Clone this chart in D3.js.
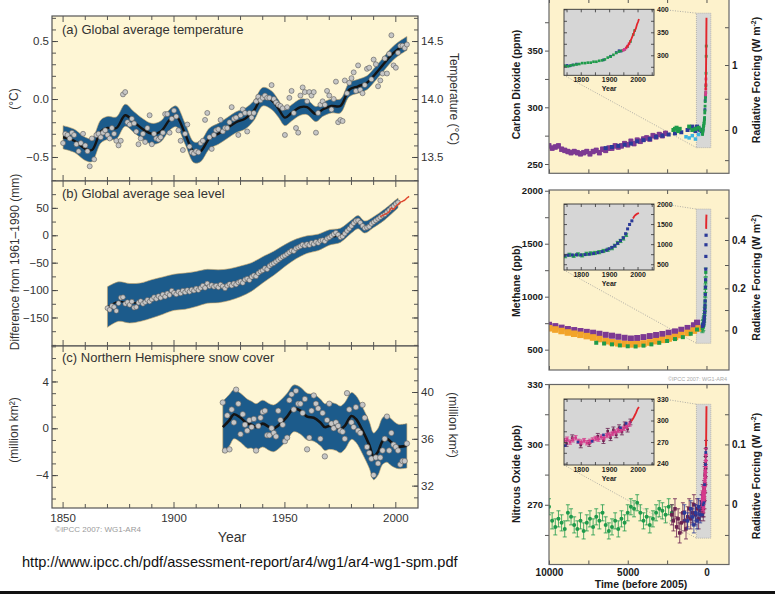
<!DOCTYPE html>
<html>
<head>
<meta charset="utf-8">
<script src="https://cdn.jsdelivr.net/npm/d3@7"></script>
<style>
  body { margin: 0; background: #fff; }
  svg { display: block; font-family: "Liberation Sans", Arial, sans-serif; }
</style>
</head>
<body>
<svg id="chart" width="775" height="602"></svg>
<script>

// ---------------- (a) global average temperature, anomaly vs 1961-1990 ----------------
var tempYears = d3.range(1850, 2006);
var tempAnom = [
  -0.38,-0.30,-0.31,-0.34,-0.29,-0.31,-0.39,-0.45,-0.38,-0.30,
  -0.40,-0.45,-0.58,-0.34,-0.52,-0.31,-0.30,-0.33,-0.29,-0.27,
  -0.31,-0.34,-0.25,-0.30,-0.36,-0.40,-0.36,0.04,0.06,-0.20,
  -0.22,-0.17,-0.21,-0.28,-0.39,-0.34,-0.30,-0.37,-0.25,-0.14,
  -0.39,-0.30,-0.34,-0.35,-0.33,-0.29,-0.13,-0.13,-0.29,-0.17,
  -0.10,-0.15,-0.27,-0.36,-0.44,-0.30,-0.22,-0.41,-0.46,-0.47,
  -0.45,-0.46,-0.38,-0.36,-0.18,-0.12,-0.33,-0.43,-0.31,-0.27,
  -0.26,-0.18,-0.28,-0.25,-0.25,-0.20,-0.07,-0.17,-0.16,-0.31,
  -0.14,-0.09,-0.12,-0.28,-0.12,-0.16,-0.12,-0.02,0.02,-0.01,
  0.01,0.03,0.01,0.01,0.12,0.00,-0.03,-0.05,-0.06,-0.08,
  -0.31,-0.07,0.01,0.07,-0.12,-0.25,-0.29,0.03,0.10,0.06,
  -0.02,0.06,0.03,0.06,-0.29,-0.12,-0.05,-0.02,-0.05,0.07,
  0.03,-0.09,0.00,0.15,-0.20,-0.18,-0.19,0.16,0.05,0.14,
  0.18,0.23,0.07,0.29,0.08,0.05,0.12,0.26,0.27,0.17,
  0.34,0.30,0.11,0.16,0.22,0.35,0.22,0.39,0.55,0.29,
  0.27,0.40,0.46,0.46,0.44,0.47
];
var tempSmoothYears = [1850,1855,1860,1863,1867,1870,1874,1878,1882,1886,1890,1894,1898,1901,1905,
  1909,1912,1916,1920,1924,1928,1932,1936,1940,1944,1947,1950,1953,1957,1960,1964,1967,1971,1975,1979,
  1983,1987,1990,1994,1998,2001,2005];
var tempSmooth = [-0.33,-0.36,-0.43,-0.44,-0.28,-0.25,-0.25,-0.14,-0.20,-0.26,-0.30,-0.28,-0.18,-0.15,-0.30,
  -0.46,-0.45,-0.34,-0.30,-0.25,-0.20,-0.17,-0.10,0.02,-0.01,-0.08,-0.16,-0.12,-0.07,-0.07,-0.13,-0.09,
  -0.06,-0.06,0.08,0.11,0.14,0.20,0.29,0.38,0.43,0.48];
var tempUnc = [0.10,0.10,0.10,0.10,0.10,0.10,0.095,0.095,0.09,0.09,0.09,0.09,0.09,0.09,0.09,
  0.09,0.09,0.09,0.09,0.09,0.09,0.09,0.085,0.08,0.08,0.075,0.07,0.07,0.07,0.065,0.065,0.06,
  0.06,0.06,0.06,0.06,0.06,0.06,0.06,0.06,0.06,0.06];

// ---------------- (b) global average sea level (mm) ----------------
var seaYears = d3.range(1870, 2002);
var seaLevel = [
  -133,-136,-129,-131,-138,-124,-114,-113,-125,-122,
  -127,-121,-132,-131,-123,-120,-125,-122,-118,-121,
  -117,-113,-116,-111,-114,-108,-112,-106,-109,-101,
  -105,-108,-103,-106,-101,-104,-100,-103,-99,-101,
  -97,-100,-96,-92,-96,-88,-93,-91,-94,-92,
  -95,-90,-93,-97,-92,-89,-92,-88,-90,-86,
  -84,-87,-81,-79,-82,-76,-73,-75,-69,-66,
  -64,-60,-62,-56,-53,-51,-48,-45,-42,-39,
  -37,-34,-31,-28,-29,-24,-22,-20,-17,-19,
  -16,-18,-14,-16,-12,-14,-10,-9,-11,-6,
  -4,-1,2,5,1,-4,-2,3,8,12,
  17,22,26,27,23,17,13,14,16,21,
  24,27,30,33,36,38,42,46,50,53,
  57,60
];
var seaSmoothYears = [1870,1875,1880,1885,1890,1895,1900,1905,1910,1915,1920,1925,1930,1935,1940,
  1945,1950,1955,1960,1965,1970,1975,1980,1983,1986,1990,1995,2001];
var seaSmooth = [-131,-121,-124,-122,-116,-110,-104,-102,-98,-93,-93,-90,-84,-76,-63,
  -51,-37,-25,-17,-13,-4,0,16,24,15,24,38,59];
var seaUnc = [37,36,36,35,35,34,33,33,32,31,30,29,28,26,24,22,20,18,16,15,14,13,12,12,11,10,10,9];
var satYears = [1993,1995,1997,1998,1999,2000,2001,2002,2003,2004,2005,2006];
var satLevel = [34,38,43,50,47,53,56,60,62,64,68,71];

// ---------------- (c) Northern Hemisphere snow cover (million km2) ----------------
var snowYears = d3.range(1922, 2006);
var snowAnom = [
  2.2,-1.9,1.1,-1.8,1.6,0.5,3.3,2.1,-0.5,1.2,
  0.3,-0.2,0.7,0.1,0.8,-1.9,0.2,0.9,1.4,1.5,
  -0.6,-0.6,0.0,-0.4,-0.7,1.5,0.7,0.3,-1.1,-0.8,
  2.4,2.9,1.6,3.2,2.1,2.1,1.3,2.5,-1.8,-0.8,
  1.5,2.8,2.1,1.7,-0.9,1.3,-2.4,0.7,2.1,0.4,
  0.0,0.5,0.2,-0.2,-0.3,-0.9,3.0,1.6,0.5,0.1,
  1.8,-0.2,-0.4,2.0,0.9,-1.6,-2.1,-2.6,-4.0,-2.5,
  -3.0,-2.5,-1.9,-0.9,1.0,-1.9,-0.4,-1.4,-1.6,-1.9,
  -3.1,-2.8,-2.8,-1.3
];
var snowSmoothYears = [1922,1925,1927,1930,1933,1935,1937,1940,1943,1945,1948,1951,1954,1957,1960,
  1963,1966,1968,1970,1973,1975,1977,1980,1982,1985,1988,1990,1992,1994,1996,1998,2001,2005];
var snowSmooth = [0.1,0.7,1.2,0.9,0.4,0.3,0.1,0.4,0.1,0.0,0.4,1.0,1.7,1.5,1.0,
  0.9,0.5,0.1,0.2,0.1,-0.1,0.2,1.05,0.8,-0.2,-1.4,-2.4,-2.0,-1.1,-0.9,-1.2,-1.55,-1.5];
var snowUnc = [2.2,2.2,2.1,2.1,2.1,2.0,2.0,2.0,2.0,2.0,2.0,2.0,2.0,2.0,2.0,
  2.0,2.0,2.0,2.0,2.0,2.0,2.0,2.0,2.0,2.0,2.0,2.0,2.0,2.0,2.0,2.0,1.9,1.9];

// ---------------- gases: [time before 2005, value] ----------------
var co2Purple = [[10000,266],[9800,264],[9600,265],[9400,266],[9200,263],[9000,262],[8800,261],[8600,260],
  [8400,261],[8200,260],[8000,259],[7800,260],[7600,261],[7400,259],[7200,261],[7000,262],[6800,260],
  [6600,263],[6400,262],[6200,264],[6000,264],[5800,266],[5600,265],[5400,266],[5200,268],[5000,267],
  [4800,270],[4600,268],[4400,271],[4200,270],[4000,272],[3800,273],[3600,272],[3400,275],[3200,274],
  [3000,276],[2800,275],[2600,277]];
var co2Blue = [[6400,264],[6000,265],[5600,266],[5200,267],[4800,268],[4400,270],[4000,271],[3600,272],
  [3200,274],[2800,275],[2400,276],[2000,277],[1600,278],[1200,280],[1000,282],[900,283],[800,281],
  [700,279],[600,283],[500,281],[400,280],[300,279]];
var co2Green = [[2100,280],[2000,281],[1900,282],[1800,279],[1700,281],[1100,283],[900,280],[700,281],
  [500,282],[350,280]];
var co2Cyan = [[1300,274],[1100,273],[900,275],[700,272],[500,276]];

// industrial era: [year, value]
var co2IceGreen = [[1745,277],[1755,276],[1765,278],[1775,279],[1785,280],[1795,281],[1805,283],[1815,283],
  [1825,284],[1835,284],[1845,286],[1855,286],[1865,288],[1875,289],[1885,291],[1895,295],[1905,297],
  [1915,301],[1925,305],[1935,308],[1945,310],[1955,313],[1965,319],[1975,330],[1985,345],[1990,354]];
var co2IceBlue = [[1742,277],[1752,278],[1762,277],[1772,279],[1785,281],[1880,290],[1905,298],[1925,306],
  [1935,310],[1942,309]];
var co2Magenta = [[1950,311],[1955,313],[1960,316],[1965,320],[1970,325]];
var co2Direct = [[1958,315],[1962,318],[1966,321],[1970,325],[1974,330],[1978,335],[1982,341],[1986,347],
  [1990,354],[1994,358],[1998,367],[2002,373],[2005,379]];

var ch4Purple = [[10000,735],[9600,722],[9200,708],[8800,695],[8400,685],[8000,676],[7600,668],[7200,660],
  [6800,650],[6400,640],[6000,632],[5600,622],[5200,612],[4800,605],[4400,610],[4000,618],[3600,628],
  [3200,638],[2800,648],[2400,660],[2000,672],[1600,688],[1200,705],[800,730],[600,755]];
var ch4Orange = [[10000,702],[9600,690],[9200,676],[8800,662],[8400,650],[8000,640],[7600,628],[7200,615],
  [6800,600],[6400,580],[6000,570],[5600,560],[5200,553],[4800,550],[4400,552],[4000,558],[3600,568],
  [3200,580],[2800,592],[2400,605],[2000,620],[1600,638],[1200,658],[800,680],[500,700]];
var ch4Green = [[7000,565],[6500,558],[6000,550],[5500,540],[5000,532],[4500,530],[4000,538],[3500,550],
  [3000,565],[2500,582],[2000,600],[1500,618],[1000,650],[600,690]];
var ch4IceBlue = [[1742,720],[1755,725],[1770,730],[1785,735],[1800,730],[1815,740],[1830,750],[1845,765],
  [1860,790],[1875,815],[1890,850],[1900,885],[1910,920],[1920,960],[1930,1020],[1940,1090],[1950,1160],
  [1958,1260],[1965,1380],[1972,1490],[1980,1580]];
var ch4IceGreen = [[1745,700],[1760,735],[1775,710],[1790,745],[1805,720],[1820,760],[1835,770],[1850,780],
  [1865,800],[1880,830],[1895,860],[1910,900],[1920,960],[1930,1030],[1940,1080],[1950,1140],[1960,1230]];
var ch4Direct = [[1984,1640],[1988,1690],[1992,1720],[1996,1745],[2000,1760],[2005,1775]];

var n2oGreen = [[10000,269],[9800,262],[9600,259],[9400,263],[9200,261],[9000,258],[8800,266],[8600,264],
  [8400,260],[8200,258],[8000,262],[7800,257],[7600,261],[7400,263],[7200,259],[7000,264],[6800,262],
  [6600,266],[6400,260],[6200,257],[6000,259],[5800,262],[5600,258],[5400,263],[5200,261],[5000,266],
  [4800,269],[4600,268],[4400,271],[4200,266],[4000,262],[3800,264],[3600,260],[3400,263],[3200,266],
  [3000,268],[2800,267],[2600,265],[2400,269],[2200,266]];
var n2oMaroon = [[2200,265],[2100,262],[2000,268],[1900,259],[1800,263],[1700,256],[1600,261],[1500,266],
  [1400,262],[1300,258],[1200,264],[1100,268],[1000,263],[900,266],[800,270],[700,265],[600,268],
  [500,263],[400,267],[300,270]];
var n2oBlue = [[1400,266],[1200,262],[1000,268],[900,264],[800,260],[700,266],[600,262],[500,269],
  [400,265],[300,271],[250,268]];
var n2oIcePink = [[1742,272],[1752,274],[1762,270],[1772,273],[1782,276],[1792,271],[1802,270],[1812,272],
  [1822,269],[1832,271],[1842,273],[1852,275],[1862,274],[1872,277],[1882,276],[1892,279],[1902,280],
  [1912,282],[1922,284],[1932,286],[1942,287],[1952,289],[1962,292],[1972,295]];
var n2oIcePurple = [[1750,268],[1770,276],[1800,266],[1830,268],[1860,278],[1880,272],[1895,285],[1905,276],
  [1915,287],[1925,280],[1935,290],[1945,284],[1955,294],[1965,288],[1975,298]];
var n2oIceBlue = [[1745,265],[1790,270],[1840,271],[1880,280],[1940,290],[1960,296]];
var n2oDirect = [[1978,299],[1985,303],[1990,307],[1995,311],[2000,316],[2005,319]];

// radiative forcing ticks and the concentration each tick sits at
var co2RfTicks = [-0.5, 0, 0.5, 1, 1.5], co2RfAt = [253.4, 280, 307.5, 337.3, 370.6];
var ch4RfTicks = [0, 0.1, 0.2, 0.3, 0.4, 0.5], ch4RfAt = [682, 874, 1079, 1299, 1535, 1745];
var n2oRfTicks = [-0.05, 0, 0.05, 0.1, 0.15], n2oRfAt = [255, 270, 285, 300, 315];

// ------------------------------------------------------------------
var svg = d3.select('#chart');
var FONT = '"Liberation Sans", Arial, sans-serif';
var clipN = 0;

function addClip(x0, y0, w, h) {
  var id = 'clip' + (clipN++);
  svg.append('clipPath').attr('id', id).append('rect')
    .attr('x', x0).attr('y', y0).attr('width', w).attr('height', h);
  return 'url(#' + id + ')';
}

function styleAxis(sel, size, bold) {
  sel.select('.domain').remove();
  sel.selectAll('line').attr('stroke', '#444').attr('stroke-width', 0.9);
  sel.selectAll('text')
    .attr('font-family', FONT)
    .attr('font-size', size)
    .attr('font-weight', bold ? 'bold' : 'normal')
    .attr('fill', bold ? '#1a1a1a' : '#333');
}

function vText(txt, cx, cy, rot, size, bold) {
  return svg.append('text')
    .attr('transform', 'translate(' + cx + ',' + cy + ') rotate(' + rot + ')')
    .attr('text-anchor', 'middle')
    .attr('dy', '0.35em')
    .attr('font-size', size)
    .attr('font-weight', bold ? 'bold' : 'normal')
    .attr('fill', bold ? '#1a1a1a' : '#333')
    .text(txt);
}

// ---------------- left column ----------------
var LX0 = 52, LX1 = 418;
var x = d3.scaleLinear().domain([1845, 2010]).range([LX0, LX1]);
var decades = d3.range(1850, 2010, 10);

function leftPanel(p) {
  var y = d3.scaleLinear().domain(p.domain).range([p.bottom, p.top]);
  var g = svg.append('g');
  g.append('rect').attr('x', LX0).attr('y', p.top)
    .attr('width', LX1 - LX0).attr('height', p.bottom - p.top)
    .attr('fill', '#fef6d5');

  var body = g.append('g').attr('clip-path', addClip(LX0, p.top, LX1 - LX0, p.bottom - p.top));
  var sm = p.smoothYears.map(function(yr, i) { return { yr: yr, v: p.smooth[i], u: p.unc[i] }; });

  body.append('path').datum(sm)
    .attr('d', d3.area().curve(d3.curveCatmullRom)
      .x(function(d) { return x(d.yr); })
      .y0(function(d) { return y(d.v - d.u); })
      .y1(function(d) { return y(d.v + d.u); }))
    .attr('fill', '#1c5b8b')
    .attr('stroke', '#c2a36c')
    .attr('stroke-width', 0.6);

  body.append('path').datum(sm)
    .attr('d', d3.line().curve(d3.curveCatmullRom)
      .x(function(d) { return x(d.yr); })
      .y(function(d) { return y(d.v); }))
    .attr('fill', 'none')
    .attr('stroke', '#141414')
    .attr('stroke-width', p.lineWidth);

  body.selectAll('circle.pt').data(p.years).enter().append('circle')
    .attr('class', 'pt')
    .attr('cx', function(d) { return x(d); })
    .attr('cy', function(d, i) { return y(p.values[i]); })
    .attr('r', p.r)
    .attr('fill', '#c6c6c6')
    .attr('stroke', '#5a5a5a')
    .attr('stroke-width', 0.6);

  if (p.extra) p.extra(body, y);

  // x ticks on top and bottom, pointing inward
  [[p.top, 1], [p.bottom, -1]].forEach(function(e) {
    g.selectAll(null).data(decades).enter().append('line')
      .attr('x1', function(d) { return x(d); })
      .attr('x2', function(d) { return x(d); })
      .attr('y1', e[0])
      .attr('y2', function(d) { return e[0] + e[1] * (d % 50 === 0 ? 6 : 4); })
      .attr('stroke', '#444').attr('stroke-width', 0.9);
  });
  if (p.xLabels) {
    g.selectAll(null).data([1850, 1900, 1950, 2000]).enter().append('text')
      .attr('x', function(d) { return x(d); })
      .attr('y', p.bottom + 13.5)
      .attr('text-anchor', 'middle')
      .attr('font-size', 11.5).attr('fill', '#333')
      .text(function(d) { return d; });
  }

  // left axis
  g.append('g').attr('transform', 'translate(' + LX0 + ',0)')
    .call(d3.axisLeft(y).tickValues(p.minor).tickSize(-4).tickFormat(''))
    .call(function(s) { styleAxis(s, 11.5, false); });
  g.append('g').attr('transform', 'translate(' + LX0 + ',0)')
    .call(d3.axisLeft(y).tickValues(p.major).tickSize(-6).tickPadding(3).tickFormat(d3.format(p.fmt)))
    .call(function(s) { styleAxis(s, 11.5, false); });

  // right axis
  var yr = y.copy().domain([p.domain[0] + p.rightOffset, p.domain[1] + p.rightOffset]);
  g.append('g').attr('transform', 'translate(' + LX1 + ',0)')
    .call(d3.axisRight(yr).tickValues(p.rMinor).tickSize(-4).tickFormat(''))
    .call(function(s) { styleAxis(s, 11.5, false); });
  g.append('g').attr('transform', 'translate(' + LX1 + ',0)')
    .call(d3.axisRight(yr).tickValues(p.rMajor).tickSize(-6).tickPadding(3)
      .tickFormat(p.rFmt ? d3.format(p.rFmt) : ''))
    .call(function(s) { styleAxis(s, 11.5, false); });

  g.append('rect').attr('x', LX0).attr('y', p.top)
    .attr('width', LX1 - LX0).attr('height', p.bottom - p.top)
    .attr('fill', 'none').attr('stroke', '#555').attr('stroke-width', 1.2);

  g.append('text').attr('x', 62).attr('y', p.titleY)
    .attr('font-size', 13).attr('fill', '#333').text(p.title);
}

leftPanel({
  top: 16, bottom: 181, domain: [-0.707, 0.716],
  years: tempYears, values: tempAnom,
  smoothYears: tempSmoothYears, smooth: tempSmooth, unc: tempUnc,
  lineWidth: 2.4, r: 2.5,
  minor: d3.range(-7, 8).map(function(k) { return k / 10; }),
  major: [-0.5, 0, 0.5], fmt: '.1f',
  rightOffset: 14.0,
  rMinor: d3.range(133, 148).map(function(k) { return k / 10; }),
  rMajor: [13.5, 14.0, 14.5], rFmt: '.1f',
  title: '(a) Global average temperature', titleY: 33.5
});

leftPanel({
  top: 181, bottom: 346, domain: [-202, 99],
  years: seaYears, values: seaLevel,
  smoothYears: seaSmoothYears, smooth: seaSmooth, unc: seaUnc,
  lineWidth: 1.6, r: 2.4,
  minor: d3.range(-200, 100, 25), major: [-150, -100, -50, 0, 50], fmt: 'd',
  rightOffset: 0,
  rMinor: d3.range(-200, 100, 25), rMajor: [-150, -100, -50, 0, 50], rFmt: null,
  title: '(b) Global average sea level', titleY: 197.5,
  extra: function(body, y) {
    body.append('path').datum(satYears)
      .attr('d', d3.line().curve(d3.curveCatmullRom)
        .x(function(d) { return x(d); })
        .y(function(d, i) { return y(satLevel[i]); }))
      .attr('fill', 'none').attr('stroke', '#e0452c').attr('stroke-width', 1.4);
  }
});

leftPanel({
  top: 346, bottom: 508, domain: [-6.81, 7.03],
  years: snowYears, values: snowAnom,
  smoothYears: snowSmoothYears, smooth: snowSmooth, unc: snowUnc,
  lineWidth: 2.6, r: 2.7,
  minor: d3.range(-6, 8), major: [-4, 0, 4], fmt: 'd',
  rightOffset: 36.9,
  rMinor: d3.range(31, 44), rMajor: [32, 36, 40], rFmt: 'd',
  title: '(c) Northern Hemisphere snow cover', titleY: 362,
  xLabels: true
});

vText('(\u00B0C)', 14, 99, -90, 12, false);
vText('Temperature (\u00B0C)', 454, 99, 90, 12, false);
vText('Difference from 1961\u20131990 (mm)', 15, 262, -90, 12, false);
vText('(million km\u00B2)', 14, 430, -90, 12, false);
vText('(million km\u00B2)', 453, 425, 90, 12, false);

svg.append('text').attr('x', 232).attr('y', 542).attr('text-anchor', 'middle')
  .attr('font-size', 14).attr('fill', '#333').text('Year');
svg.append('text').attr('x', 55).attr('y', 532)
  .attr('font-size', 8).attr('fill', '#9a9a9a').text('\u00A9IPCC  2007: WG1-AR4');
svg.append('text').attr('x', 22).attr('y', 567)
  .attr('font-size', 14.6).attr('fill', '#111')
  .text('http://www.ipcc.ch/pdf/assessment-report/ar4/wg1/ar4-wg1-spm.pdf');
svg.append('rect').attr('x', 0).attr('y', 591).attr('width', 775).attr('height', 3).attr('fill', '#111');

// ---------------- right column ----------------
var RX0 = 549, RX1 = 729;
var tx = d3.scaleLinear().domain([10000, -1430]).range([RX0, RX1]);
var IX0 = 564, IX1 = 654;
var ix = d3.scaleLinear().domain([1741, 2058]).range([IX0, IX1]);
var BOX_T = [640, -275];

function drawMarks(g, data, xf, yf, s, scale) {
  var k = scale || 1;
  if (s.kind === 'line') {
    g.append('path').datum(data)
      .attr('d', d3.line().x(xf).y(function(d) { return yf(d[1]); }))
      .attr('fill', 'none').attr('stroke', s.color).attr('stroke-width', s.width * k);
    return;
  }
  if (s.err) {
    g.selectAll(null).data(data).enter().append('line')
      .attr('x1', xf).attr('x2', xf)
      .attr('y1', function(d) { return yf(d[1] - s.err); })
      .attr('y2', function(d) { return yf(d[1] + s.err); })
      .attr('stroke', s.color).attr('stroke-width', 0.8);
    [-1, 1].forEach(function(sg) {
      g.selectAll(null).data(data).enter().append('line')
        .attr('x1', function(d) { return xf(d) - 2; })
        .attr('x2', function(d) { return xf(d) + 2; })
        .attr('y1', function(d) { return yf(d[1] + sg * s.err); })
        .attr('y2', function(d) { return yf(d[1] + sg * s.err); })
        .attr('stroke', s.color).attr('stroke-width', 0.8);
    });
  }
  var sz = s.size * k;
  if (s.kind === 'dot') {
    g.selectAll(null).data(data).enter().append('circle')
      .attr('cx', xf).attr('cy', function(d) { return yf(d[1]); })
      .attr('r', sz / 2).attr('fill', s.color);
  } else {
    g.selectAll(null).data(data).enter().append('rect')
      .attr('x', function(d) { return xf(d) - sz / 2; })
      .attr('y', function(d) { return yf(d[1]) - sz / 2; })
      .attr('width', sz).attr('height', sz)
      .attr('fill', s.color);
  }
}

function gasPanel(p) {
  var y = d3.scaleLinear().domain(p.domain).range([p.bottom, p.top]);
  var g = svg.append('g');
  g.append('rect').attr('x', RX0).attr('y', p.top)
    .attr('width', RX1 - RX0).attr('height', p.bottom - p.top)
    .attr('fill', '#fdf2cc');

  // highlighted industrial era box
  var bx0 = tx(BOX_T[0]), bx1 = tx(BOX_T[1]);
  var by0 = y(p.box[1]), by1 = y(p.box[0]);
  g.append('rect').attr('x', bx0).attr('y', by0).attr('width', bx1 - bx0).attr('height', by1 - by0)
    .attr('fill', '#d8d8d6').attr('stroke', '#a8a8a8').attr('stroke-width', 0.8)
    .attr('stroke-dasharray', '1,1');

  var inset = p.inset;
  g.append('line').attr('x1', IX1 + 16).attr('y1', inset.top + 1).attr('x2', bx0).attr('y2', by0)
    .attr('stroke', '#999').attr('stroke-width', 0.8).attr('stroke-dasharray', '1,1.5');
  g.append('line').attr('x1', IX0).attr('y1', inset.bottom).attr('x2', bx0).attr('y2', by1)
    .attr('stroke', '#999').attr('stroke-width', 0.8).attr('stroke-dasharray', '1,1.5');

  var body = g.append('g').attr('clip-path', addClip(RX0, p.top, RX1 - RX0, p.bottom - p.top));
  var tf = function(d) { return tx(d[0]); };
  var yf = function(v) { return y(v); };
  p.series.forEach(function(s) { drawMarks(body, s.data, tf, yf, s); });
  var tIndustrial = function(d) { return tx(2005 - d[0]); };
  p.industrial.forEach(function(s) { drawMarks(body, s.data, tIndustrial, yf, s, 0.8); });

  // axes of the main plot
  g.append('g').attr('transform', 'translate(' + RX0 + ',0)')
    .call(d3.axisLeft(y).tickValues(p.minor).tickSize(4).tickFormat(''))
    .call(function(s) { styleAxis(s, 9.5, true); });
  g.append('g').attr('transform', 'translate(' + RX0 + ',0)')
    .call(d3.axisLeft(y).tickValues(p.major).tickSize(4).tickPadding(2).tickFormat(d3.format('d')))
    .call(function(s) { styleAxis(s, 9.5, true); });

  var rf = d3.scaleLinear().domain(p.rfTicks).range(p.rfAt.map(function(v) { return y(v); }));
  g.append('g').attr('transform', 'translate(' + RX1 + ',0)')
    .call(d3.axisRight(rf).tickValues(p.rfTicks).tickSize(-4).tickPadding(3)
      .tickFormat(function(d) { return p.rfLabels.indexOf(d) >= 0 ? String(d) : ''; }))
    .call(function(s) { styleAxis(s, 10, true); });

  var tTicks = [10000, 7500, 5000, 2500, 0];
  g.append('g').attr('transform', 'translate(0,' + p.bottom + ')')
    .call(d3.axisBottom(tx).tickValues(tTicks).tickSize(-4).tickPadding(4)
      .tickFormat(p.xLabels ? d3.format('d') : ''))
    .call(function(s) {
      styleAxis(s, 10, true);
      s.selectAll('text').filter(function(d) { return d === 7500 || d === 2500; }).remove();
    });
  g.append('g').attr('transform', 'translate(0,' + p.top + ')')
    .call(d3.axisTop(tx).tickValues(tTicks).tickSize(-4).tickFormat(''))
    .call(function(s) { styleAxis(s, 10, true); });

  g.append('rect').attr('x', RX0).attr('y', p.top)
    .attr('width', RX1 - RX0).attr('height', p.bottom - p.top)
    .attr('fill', 'none').attr('stroke', '#666').attr('stroke-width', 1.2);

  // inset with the last 250 years
  var iy = d3.scaleLinear().domain(inset.domain).range([inset.bottom, inset.top]);
  var ig = g.append('g');
  ig.append('rect').attr('x', IX0).attr('y', inset.top)
    .attr('width', IX1 - IX0).attr('height', inset.bottom - inset.top)
    .attr('fill', '#d6d6d6');
  var ibody = ig.append('g').attr('clip-path', addClip(IX0, inset.top, IX1 - IX0, inset.bottom - inset.top));
  var yearF = function(d) { return ix(d[0]); };
  var iyf = function(v) { return iy(v); };
  p.industrial.forEach(function(s) { drawMarks(ibody, s.data, yearF, iyf, s, 0.75); });

  var yrTicks = [1750, 1800, 1850, 1900, 1950, 2000, 2050];
  ig.append('g').attr('transform', 'translate(0,' + inset.bottom + ')')
    .call(d3.axisBottom(ix).tickValues(yrTicks).tickSize(-3).tickPadding(2)
      .tickFormat(function(d) { return d % 100 === 0 ? d : ''; }))
    .call(function(s) { styleAxis(s, 7, true); });
  ig.append('g').attr('transform', 'translate(0,' + inset.top + ')')
    .call(d3.axisTop(ix).tickValues(yrTicks).tickSize(-3).tickFormat(''))
    .call(function(s) { styleAxis(s, 7, true); });
  ig.append('g').attr('transform', 'translate(' + IX0 + ',0)')
    .call(d3.axisLeft(iy).tickValues(inset.ticks).tickSize(-3).tickFormat(''))
    .call(function(s) { styleAxis(s, 7, true); });
  ig.append('g').attr('transform', 'translate(' + IX1 + ',0)')
    .call(d3.axisRight(iy).tickValues(inset.ticks).tickSize(-3).tickPadding(3)
      .tickFormat(function(d) { return inset.labels.indexOf(d) >= 0 ? d : ''; }))
    .call(function(s) { styleAxis(s, 7, true); });
  ig.append('rect').attr('x', IX0).attr('y', inset.top)
    .attr('width', IX1 - IX0).attr('height', inset.bottom - inset.top)
    .attr('fill', 'none').attr('stroke', '#333').attr('stroke-width', 0.9);
  ig.append('text').attr('x', ix(1900)).attr('y', inset.bottom + 16)
    .attr('text-anchor', 'middle').attr('font-size', 7).attr('font-weight', 'bold')
    .attr('fill', '#1a1a1a').text('Year');

  vText(p.label, 516, p.labelY, -90, 10.5, true);
  var t = svg.append('text')
    .attr('transform', 'translate(756,' + p.rfLabelY + ') rotate(-90)')
    .attr('text-anchor', 'middle').attr('font-size', 10.5).attr('font-weight', 'bold')
    .attr('fill', '#1a1a1a');
  t.append('tspan').attr('dy', '0.35em').text('Radiative Forcing (W m');
  t.append('tspan').attr('dy', -4).attr('font-size', 7).text('-2');
  t.append('tspan').attr('dy', 4).text(')');
}

var PURPLE = '#7d3a92', BLUE = '#2b3a98', GREEN = '#1f9b4b', CYAN = '#3ab4e2',
    MAGENTA = '#d63a8c', RED = '#e2262c', ORANGE = '#f2a42a', MAROON = '#6a2150';

gasPanel({
  top: -1, bottom: 173.3, domain: [241.8, 395.5],
  major: [250, 300, 350], minor: [275, 325, 375],
  rfTicks: co2RfTicks, rfAt: co2RfAt, rfLabels: [0, 1],
  box: [264.4, 383],
  series: [
    { data: co2Purple, kind: 'sq', size: 5, color: PURPLE, err: 2 },
    { data: co2Blue, kind: 'sq', size: 4, color: BLUE },
    { data: co2Green, kind: 'sq', size: 4, color: GREEN },
    { data: co2Cyan, kind: 'sq', size: 3.5, color: CYAN }
  ],
  industrial: [
    { data: co2IceBlue, kind: 'sq', size: 3.5, color: BLUE },
    { data: co2IceGreen, kind: 'sq', size: 3.5, color: GREEN },
    { data: co2Magenta, kind: 'sq', size: 3.5, color: MAGENTA },
    { data: co2Direct, kind: 'line', width: 2.4, color: RED }
  ],
  inset: { top: 9.3, bottom: 75.3, domain: [256.5, 400],
    ticks: [275, 300, 325, 350, 375, 400], labels: [300, 350, 400] },
  label: 'Carbon Dioxide (ppm)', labelY: 84.5, rfLabelY: 80
});

gasPanel({
  top: 190, bottom: 370, domain: [308, 2007],
  major: [500, 1000, 1500, 2000], minor: [750, 1250, 1750],
  rfTicks: ch4RfTicks, rfAt: ch4RfAt, rfLabels: [0, 0.2, 0.4],
  box: [560, 1827],
  series: [
    { data: ch4Purple, kind: 'sq', size: 6, color: PURPLE, err: 20 },
    { data: ch4Orange, kind: 'sq', size: 6.5, color: ORANGE, err: 22 },
    { data: ch4Green, kind: 'sq', size: 4, color: GREEN }
  ],
  industrial: [
    { data: ch4IceGreen, kind: 'sq', size: 4, color: GREEN, err: 40 },
    { data: ch4IceBlue, kind: 'sq', size: 4, color: BLUE },
    { data: ch4Direct, kind: 'line', width: 2.4, color: RED }
  ],
  inset: { top: 204, bottom: 270, domain: [356, 2000],
    ticks: [500, 750, 1000, 1250, 1500, 1750, 2000], labels: [500, 1000, 1500, 2000] },
  label: 'Methane (ppb)', labelY: 281, rfLabelY: 277.5
});

gasPanel({
  top: 384.5, bottom: 564.5, domain: [240.3, 329.8],
  major: [270, 300, 330], minor: [255, 285, 315],
  rfTicks: n2oRfTicks, rfAt: n2oRfAt, rfLabels: [0, 0.1],
  box: [253.4, 320],
  series: [
    { data: n2oGreen, kind: 'dot', size: 4, color: GREEN, err: 4 },
    { data: n2oMaroon, kind: 'sq', size: 3.5, color: MAROON, err: 5 },
    { data: n2oBlue, kind: 'sq', size: 3.5, color: BLUE, err: 4 }
  ],
  industrial: [
    { data: n2oIcePurple, kind: 'sq', size: 3.5, color: MAROON, err: 4 },
    { data: n2oIcePink, kind: 'sq', size: 3.5, color: MAGENTA, err: 3 },
    { data: n2oIceBlue, kind: 'sq', size: 3.5, color: BLUE },
    { data: n2oDirect, kind: 'line', width: 2.4, color: RED }
  ],
  inset: { top: 399, bottom: 465, domain: [238, 330],
    ticks: [240, 255, 270, 285, 300, 315, 330], labels: [240, 270, 300, 330] },
  label: 'Nitrous Oxide (ppb)', labelY: 474, rfLabelY: 476,
  xLabels: true
});

svg.append('text').attr('x', 641).attr('y', 587.5).attr('text-anchor', 'middle')
  .attr('font-size', 10.5).attr('font-weight', 'bold').attr('fill', '#1a1a1a')
  .text('Time (before 2005)');
svg.append('text').attr('x', 727).attr('y', 380.5).attr('text-anchor', 'end')
  .attr('font-size', 5.5).attr('fill', '#aaa').text('\u00A9IPCC  2007: WG1-AR4');

</script>
</body>
</html>
